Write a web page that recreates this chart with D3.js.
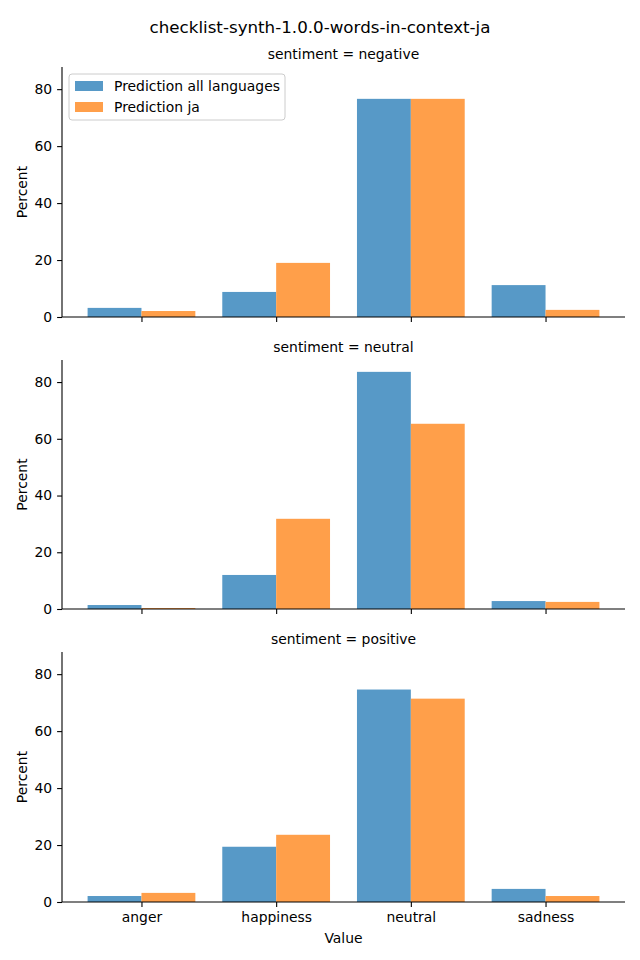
<!DOCTYPE html>
<html><head><meta charset="utf-8">
<script src="https://cdn.jsdelivr.net/npm/d3@7"></script>
<style>body{margin:0;background:#fff}svg{display:block}text{font-family:"DejaVu Sans",sans-serif;fill:#000}</style>
</head><body>
<script>
const categories = ["anger","happiness","neutral","sadness"];
const series = ["Prediction all languages","Prediction ja"];
const panels = ["sentiment = negative","sentiment = neutral","sentiment = positive"];
const allLangNegative = [3.2, 8.8, 76.6, 11.2];
const jaNegative = [2.1, 19.0, 76.6, 2.5];
const allLangNeutral = [1.4, 12.0, 83.6, 2.8];
const jaNeutral = [0.35, 31.8, 65.3, 2.5];
const allLangPositive = [2.1, 19.4, 74.6, 4.6];
const jaPositive = [3.2, 23.6, 71.4, 2.1];
const yTicks = [0, 20, 40, 60, 80];
const title = "checklist-synth-1.0.0-words-in-context-ja";

const panelData = [
  [allLangNegative, jaNegative],
  [allLangNeutral, jaNeutral],
  [allLangPositive, jaPositive]
];
const colors = ["#5799c7", "#ff9f4a"];

const W = 640, H = 960;
const svg = d3.select("body").append("svg").attr("width", W).attr("height", H);
svg.append("text").attr("x", 320).attr("y", 33).attr("text-anchor", "middle")
  .style("font-size", "16.7px").text(title);

const left = 62, right = 625;
const tops = [67, 360, 652], bottoms = [317, 609, 902];
const ymax = d3.max(panelData.flat(2)) * 1.05;
const x = d3.scaleLinear().domain([-0.59, 3.59]).range([left, right]);
const barW = x(0.4) - x(0);

panelData.forEach((pd, p) => {
  const y = d3.scaleLinear().domain([0, ymax]).range([bottoms[p], tops[p]]);
  const g = svg.append("g");
  g.append("text").attr("x", (left + right) / 2).attr("y", tops[p] - 8)
    .attr("text-anchor", "middle").style("font-size", "13.9px").text(panels[p]);
  pd.forEach((vals, s) => {
    g.selectAll(null).data(vals).enter().append("rect")
      .attr("x", (d, i) => x(i - 0.4 + s * 0.4))
      .attr("width", barW)
      .attr("y", d => y(d))
      .attr("height", d => y(0) - y(d))
      .attr("fill", colors[s]);
  });
  const ya = g.append("g").attr("transform", `translate(${left},0)`)
    .call(d3.axisLeft(y).tickValues(yTicks).tickSize(4.9).tickPadding(4.9));
  ya.select(".domain").attr("d", `M0,${tops[p]}V${bottoms[p]}`).attr("stroke-width", 1.1);
  ya.selectAll("text").style("font-size", "13.9px").style("font-family", "DejaVu Sans");
  ya.selectAll("line").attr("stroke-width", 1.1);
  const xa = g.append("g").attr("transform", `translate(0,${bottoms[p]})`)
    .call(d3.axisBottom(x).tickValues([0,1,2,3]).tickSize(4.9).tickPadding(4.9)
      .tickFormat(p === 2 ? (i => categories[i]) : () => ""));
  xa.select(".domain").attr("d", `M${left},0H${right}`).attr("stroke-width", 1.1);
  xa.selectAll("text").style("font-size", "13.9px").style("font-family", "DejaVu Sans");
  xa.selectAll("line").attr("stroke-width", 1.1);
  g.append("text").attr("transform", `translate(27,${(tops[p] + bottoms[p]) / 2}) rotate(-90)`)
    .attr("text-anchor", "middle").style("font-size", "13.9px").text("Percent");
});

svg.append("text").attr("x", (left + right) / 2).attr("y", 943).attr("text-anchor", "middle")
  .style("font-size", "13.9px").text("Value");

// legend
const lg = svg.append("g");
lg.append("rect").attr("x", 69).attr("y", 74).attr("width", 216).attr("height", 46).attr("rx", 3)
  .attr("fill", "#fff").attr("fill-opacity", 0.8).attr("stroke", "#ccc").attr("stroke-width", 1);
series.forEach((s, i) => {
  lg.append("rect").attr("x", 75).attr("y", 81 + i * 21).attr("width", 28).attr("height", 10).attr("fill", colors[i]);
  lg.append("text").attr("x", 114).attr("y", 91 + i * 21).style("font-size", "13.9px").text(s);
});
</script>
</body></html>
